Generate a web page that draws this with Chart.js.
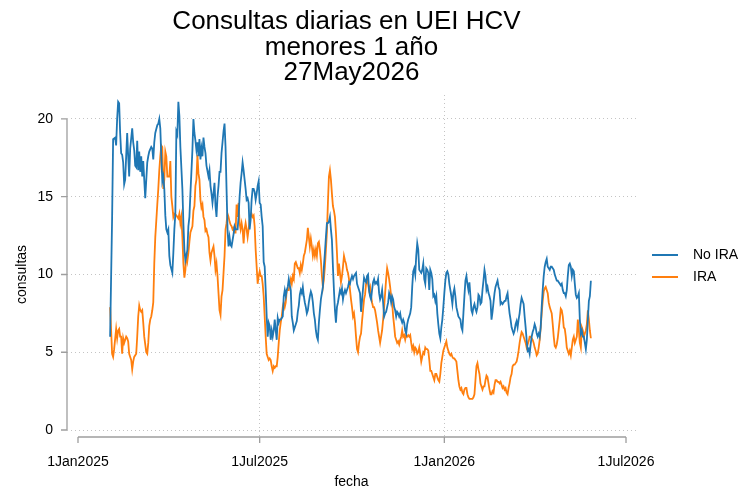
<!DOCTYPE html>
<html><head><meta charset="utf-8">
<script src="https://cdn.jsdelivr.net/npm/chart.js@4/dist/chart.umd.min.js"></script>
<style>html,body{margin:0;padding:0;background:#fff}canvas{display:block}</style>
</head><body>
<canvas id="c" width="742" height="491"></canvas>
<script>
// Texts
const titulo = ['Consultas diarias en UEI HCV', 'menores 1 año', '27May2026'];
const tituloY = 'consultas';
const tituloX = 'fecha';
const series = ['No IRA', 'IRA'];
const colores = ['#1f77b4', '#ff7f0e'];

// X axis: days since 1Jan2025, tick labels
const posX = [0, 181, 365, 546];
const etiquetasX = ['1Jan2025', '1Jul2025', '1Jan2026', '1Jul2026'];
const ticksY = [0, 5, 10, 15, 20];

// first day of the series (days since 1Jan2025 = 2Feb2025); one value per day, null = not read
const primerDia = 32;

const noIRA = [
6.0,null,13.7,18.7,null,18.8,18.3,20.0,21.1,21.0,
19.1,17.8,17.7,17.2,15.8,16.1,17.6,19.1,17.6,16.3,
18.1,null,19.4,18.5,18.0,17.0,16.9,18.6,16.7,17.9,
16.6,17.6,16.3,17.3,16.1,14.9,null,17.2,17.6,17.9,
null,18.2,18.1,17.4,18.5,19.1,null,19.6,19.7,20.0,
19.4,17.6,16.0,16.3,15.5,13.8,12.9,12.7,12.9,11.2,
10.6,null,10.1,11.4,12.9,13.9,19.2,19.0,21.1,20.2,
18.2,null,15.5,13.3,11.6,10.9,11.2,11.6,13.1,13.7,
15.2,null,18.0,20.0,19.1,18.6,18.0,18.5,17.6,18.7,
17.4,18.1,17.6,18.8,18.2,17.8,17.0,null,16.3,16.7,
15.7,15.2,14.6,15.2,15.9,14.4,13.7,15.0,15.7,16.6,
16.6,17.8,18.5,19.2,19.7,18.2,15.5,12.9,11.8,12.4,
11.9,11.8,12.2,12.6,13.1,12.9,null,12.9,13.7,15.0,
15.9,16.5,17.2,16.7,16.1,15.5,14.8,14.9,14.6,12.9,
13.5,14.8,15.5,15.5,15.3,14.8,15.2,15.7,16.0,14.6,
14.5,13.7,13.1,10.8,10.5,9.0,7.3,6.0,6.9,6.7,
5.8,6.4,6.0,6.4,7.1,6.4,5.8,7.2,6.9,7.1,
7.1,null,7.3,8.6,9.0,8.6,9.0,9.2,9.7,9.3,
9.0,7.3,6.9,6.4,null,6.8,7.0,7.6,8.0,8.7,
9.0,8.8,9.2,8.6,8.2,7.9,7.5,7.7,8.2,8.6,
8.9,8.7,8.2,7.5,7.1,6.4,6.0,5.8,6.9,7.7,
8.4,8.8,9.2,10.5,11.4,12.4,13.3,13.3,13.4,13.7,
12.9,12.2,10.5,9.0,7.7,6.9,7.9,8.2,8.6,9.0,
8.8,9.1,8.4,8.8,9.0,8.8,9.0,9.2,9.5,9.4,
9.7,9.9,9.7,9.9,10.0,10.1,9.4,9.2,9.0,8.8,
7.6,8.3,9.1,9.8,9.6,9.5,9.9,10.0,9.0,8.6,
8.4,9.0,9.5,9.7,9.4,9.5,9.4,9.7,8.8,8.4,
8.6,9.0,8.2,7.3,7.5,7.6,7.9,8.2,8.8,8.6,
8.2,8.6,8.4,7.9,7.7,7.3,7.6,7.5,7.3,7.5,
7.1,6.9,7.1,6.9,6.4,6.2,6.8,7.1,7.3,7.5,
7.9,9.2,10.2,10.4,10.0,11.2,12.0,11.6,10.3,10.2,
10.1,10.3,10.7,9.7,9.4,10.4,10.3,10.1,9.0,10.3,
10.1,9.7,8.6,8.7,8.3,8.6,7.5,6.8,6.2,5.9,
6.6,7.1,7.9,8.8,9.6,10.1,10.2,10.0,9.4,9.0,
8.6,8.1,8.8,9.1,8.6,7.9,7.6,7.3,7.2,7.1,
6.6,6.4,7.5,8.6,9.6,9.9,9.4,9.0,9.5,8.6,
7.7,7.5,7.9,8.1,7.8,7.6,7.9,8.7,8.6,8.1,
8.2,9.0,9.6,10.3,9.9,9.0,9.2,8.8,8.6,8.3,
7.1,7.6,8.2,8.8,9.2,9.4,9.6,9.2,9.0,8.1,
8.2,8.1,8.2,8.3,8.3,8.6,8.8,8.1,7.5,7.1,
6.6,6.4,6.2,6.4,6.8,7.0,6.6,7.1,7.5,8.1,
8.5,8.3,8.1,7.3,6.6,5.8,5.1,5.2,4.9,5.5,
6.0,6.3,6.5,6.8,6.6,6.2,6.0,6.2,6.0,6.6,
7.9,9.0,9.9,10.5,10.8,11.0,10.5,10.4,10.3,10.5,
10.5,10.4,10.3,10.0,9.8,9.6,9.6,9.5,9.4,9.3,
9.4,9.0,8.8,8.8,8.6,9.0,9.9,10.6,10.7,10.5,
9.9,10.3,10.2,9.4,8.7,8.5,8.6,8.8,7.1,6.2,
6.4,6.0,6.0,5.6,5.2,5.8,7.1,8.3,8.6,9.6
];

const ira = [
7.9,null,4.9,4.7,5.2,null,6.5,5.9,6.4,6.5,
6.0,6.0,4.9,5.9,5.6,null,6.0,5.9,5.7,4.9,
4.7,4.5,3.9,4.4,4.7,null,4.9,6.0,7.3,8.0,
7.7,7.6,7.7,6.9,6.0,null,5.0,4.9,5.6,6.7,
7.1,7.3,7.7,8.2,10.7,12.4,null,14.5,15.5,16.7,
17.6,18.3,18.2,15.5,16.1,17.9,17.6,16.3,16.3,16.3,
17.3,15.0,14.4,13.7,13.9,null,13.8,13.7,13.6,13.9,
13.3,13.7,12.4,10.7,9.8,10.3,11.4,10.9,11.4,12.1,
12.7,null,13.1,14.1,14.4,15.7,16.1,17.7,16.5,16.1,
14.8,14.3,14.5,13.7,13.5,12.8,12.9,12.6,12.4,11.4,
10.9,11.4,11.6,11.8,11.2,10.3,10.7,9.9,8.8,7.7,
7.4,8.6,9.0,10.1,11.2,12.9,13.3,13.9,13.7,13.4,
13.2,13.1,12.9,13.0,12.7,12.7,14.5,13.7,14.6,13.3,
12.9,13.3,12.9,12.0,12.9,13.3,12.9,12.4,12.9,13.5,
13.7,13.9,13.7,13.8,13.1,11.6,10.5,9.4,9.9,10.2,
9.9,9.9,9.4,8.6,7.3,6.0,4.9,4.7,4.5,4.6,
4.5,4.1,3.8,4.1,4.0,4.1,4.1,4.7,5.6,6.4,
6.9,7.3,7.9,8.2,7.9,8.2,9.0,9.0,9.0,9.4,
9.7,9.4,9.9,9.7,10.7,10.8,10.6,10.4,10.4,10.1,
10.6,10.3,10.7,11.2,11.4,11.8,12.2,13.0,12.4,11.8,
12.3,11.8,11.2,11.6,11.2,11.6,11.2,12.0,12.1,11.6,
10.9,9.9,9.2,9.7,10.5,11.6,12.7,14.6,16.3,16.7,
16.1,15.2,14.4,14.1,13.7,12.7,11.4,9.9,10.7,10.1,
9.5,9.9,10.5,11.2,10.9,10.7,10.3,10.1,9.7,9.0,
8.4,7.9,7.3,7.5,6.9,6.0,5.2,5.0,5.6,6.0,
6.2,7.0,7.7,8.4,8.7,9.4,9.7,9.4,9.0,9.2,
8.6,8.2,7.9,7.9,7.7,7.3,6.9,6.4,6.0,5.6,
6.0,6.4,7.1,7.9,8.8,9.7,10.4,10.1,9.7,9.2,
8.6,8.2,7.3,6.7,6.0,5.8,5.6,5.7,5.5,5.8,
6.0,6.4,6.0,6.1,5.8,6.1,6.0,6.1,6.0,6.1,
5.6,5.2,5.4,5.0,5.3,5.2,4.9,5.0,5.3,4.9,
4.4,4.7,5.0,4.9,5.3,5.2,5.2,5.1,4.5,3.8,
3.8,3.6,3.4,3.2,3.6,3.6,3.4,3.2,3.1,3.6,
4.3,4.7,5.1,5.3,5.5,5.7,5.3,5.1,4.9,4.8,
4.9,4.7,4.6,4.6,4.5,4.4,3.8,3.2,2.8,2.6,
2.7,2.4,2.3,2.6,2.7,2.7,2.3,2.1,2.0,2.0,
2.0,2.0,2.1,2.3,3.2,4.1,4.3,3.9,3.6,3.0,
2.8,2.6,2.8,2.8,3.2,3.5,3.4,3.0,2.6,2.3,
2.3,2.5,2.4,2.9,3.2,3.2,3.1,3.1,3.0,3.1,
2.9,2.7,2.8,2.6,2.7,2.4,2.3,2.7,3.0,3.4,
3.6,4.1,4.2,4.2,4.3,4.4,4.7,5.1,5.6,6.0,
6.3,6.2,6.0,5.8,5.6,5.3,5.5,5.7,6.0,6.0,
5.9,5.8,5.6,5.3,5.1,4.8,4.9,5.3,5.8,6.6,
7.5,8.3,8.9,9.1,9.2,9.0,8.8,8.2,7.9,7.7,
7.5,6.8,6.0,5.4,5.3,5.5,5.9,6.5,7.1,7.8,
7.7,7.3,6.6,6.5,6.0,5.3,5.1,4.9,5.1,4.8,
5.3,5.8,6.0,5.6,5.8,6.0,7.1,6.4,5.6,5.3,
6.6,6.4,6.0,6.2,6.4,6.8,7.7,7.1,6.4,5.9
];

const dias = noIRA.map((_, i) => primerDia + i);
const valores = [noIRA, ira];

const FUENTE = '"Liberation Sans", Arial, Helvetica, sans-serif';
Chart.defaults.font.family = FUENTE;
Chart.defaults.color = '#000';

const decor = {
  id: 'decor',
  afterDraw(chart) {
    const {ctx, chartArea: a, scales: {x, y}} = chart;
    ctx.save();
    // axis lines and tick marks
    ctx.strokeStyle = '#9e9e9e';
    ctx.lineWidth = 1.3;
    ctx.beginPath();
    const yTop = y.getPixelForValue(ticksY[ticksY.length - 1]);
    const yBot = y.getPixelForValue(ticksY[0]);
    ctx.moveTo(a.left, yTop); ctx.lineTo(a.left, yBot);
    ticksY.forEach(v => { const p = y.getPixelForValue(v); ctx.moveTo(a.left - 6, p); ctx.lineTo(a.left, p); });
    const xL = x.getPixelForValue(posX[0]);
    const xR = x.getPixelForValue(posX[posX.length - 1]);
    ctx.moveTo(xL, a.bottom); ctx.lineTo(xR, a.bottom);
    posX.forEach(v => { const p = x.getPixelForValue(v); ctx.moveTo(p, a.bottom); ctx.lineTo(p, a.bottom + 6); });
    ctx.stroke();

    // title
    ctx.fillStyle = '#000';
    ctx.textAlign = 'center';
    ctx.textBaseline = 'middle';
    ctx.font = '26px ' + FUENTE;
    const cx = (a.left + a.right) / 2;
    const yT = [22, 47.5, 73];
    titulo.forEach((t, i) => ctx.fillText(t, cx - (i === 0 ? 5 : 0), yT[i]));

    // y-axis title
    ctx.font = '14px ' + FUENTE;
    ctx.save();
    ctx.translate(22, y.getPixelForValue((ticksY[0] + ticksY[ticksY.length - 1]) / 2));
    ctx.rotate(-Math.PI / 2);
    ctx.fillText(tituloY, 0, 0);
    ctx.restore();

    // legend
    const ly = (a.top + a.bottom) / 2;
    chart.data.datasets.forEach((ds, i) => {
      const yy = ly - 11 + 22 * i;
      ctx.strokeStyle = ds.borderColor;
      ctx.lineWidth = 2;
      ctx.beginPath();
      ctx.moveTo(a.right + 16, yy); ctx.lineTo(a.right + 42, yy);
      ctx.stroke();
      ctx.textAlign = 'left';
      ctx.fillStyle = '#000';
      ctx.fillText(ds.label, a.right + 57, yy);
    });
    ctx.restore();
  }
};

new Chart(document.getElementById('c'), {
  type: 'line',
  data: {
    datasets: series.map((s, k) => ({
      label: s,
      data: dias.map((d, i) => ({x: d, y: valores[k][i]})),
      borderColor: colores[k],
      backgroundColor: colores[k],
      borderWidth: 1.8,
      pointRadius: 0,
      tension: 0,
      spanGaps: true,
      fill: false
    }))
  },
  options: {
    responsive: false,
    animation: false,
    devicePixelRatio: 1,
    layout: {padding: {top: 95, right: 106, left: 0, bottom: 0}},
    plugins: {legend: {display: false}, title: {display: false}, tooltip: {enabled: false}},
    scales: {
      x: {
        type: 'linear',
        min: -10.96,
        max: 555.96,
        afterBuildTicks: s => { s.ticks = posX.map(v => ({value: v})); },
        afterFit: s => { s.height = 54; },
        ticks: {
          callback: v => etiquetasX[posX.indexOf(v)],
          padding: 17, color: '#000', font: {size: 14}, maxRotation: 0, autoSkip: false
        },
        grid: {
          drawTicks: false,
          color: c => (c.index === 1 || c.index === 2) ? '#c4c4c4' : 'rgba(0,0,0,0)',
          lineWidth: 1
        },
        border: {display: false, dash: [1, 3]},
        title: {display: true, text: tituloX, font: {size: 14}, color: '#000', padding: 0}
      },
      y: {
        type: 'linear',
        min: -0.45,
        max: 21.54,
        afterBuildTicks: s => { s.ticks = ticksY.map(v => ({value: v})); },
        afterFit: s => { s.width = 67; },
        ticks: {padding: 14, color: '#000', font: {size: 14}},
        grid: {drawTicks: false, color: '#c4c4c4', lineWidth: 1},
        border: {display: false, dash: [1, 3]}
      }
    }
  },
  plugins: [decor]
});
</script>
</body></html>
